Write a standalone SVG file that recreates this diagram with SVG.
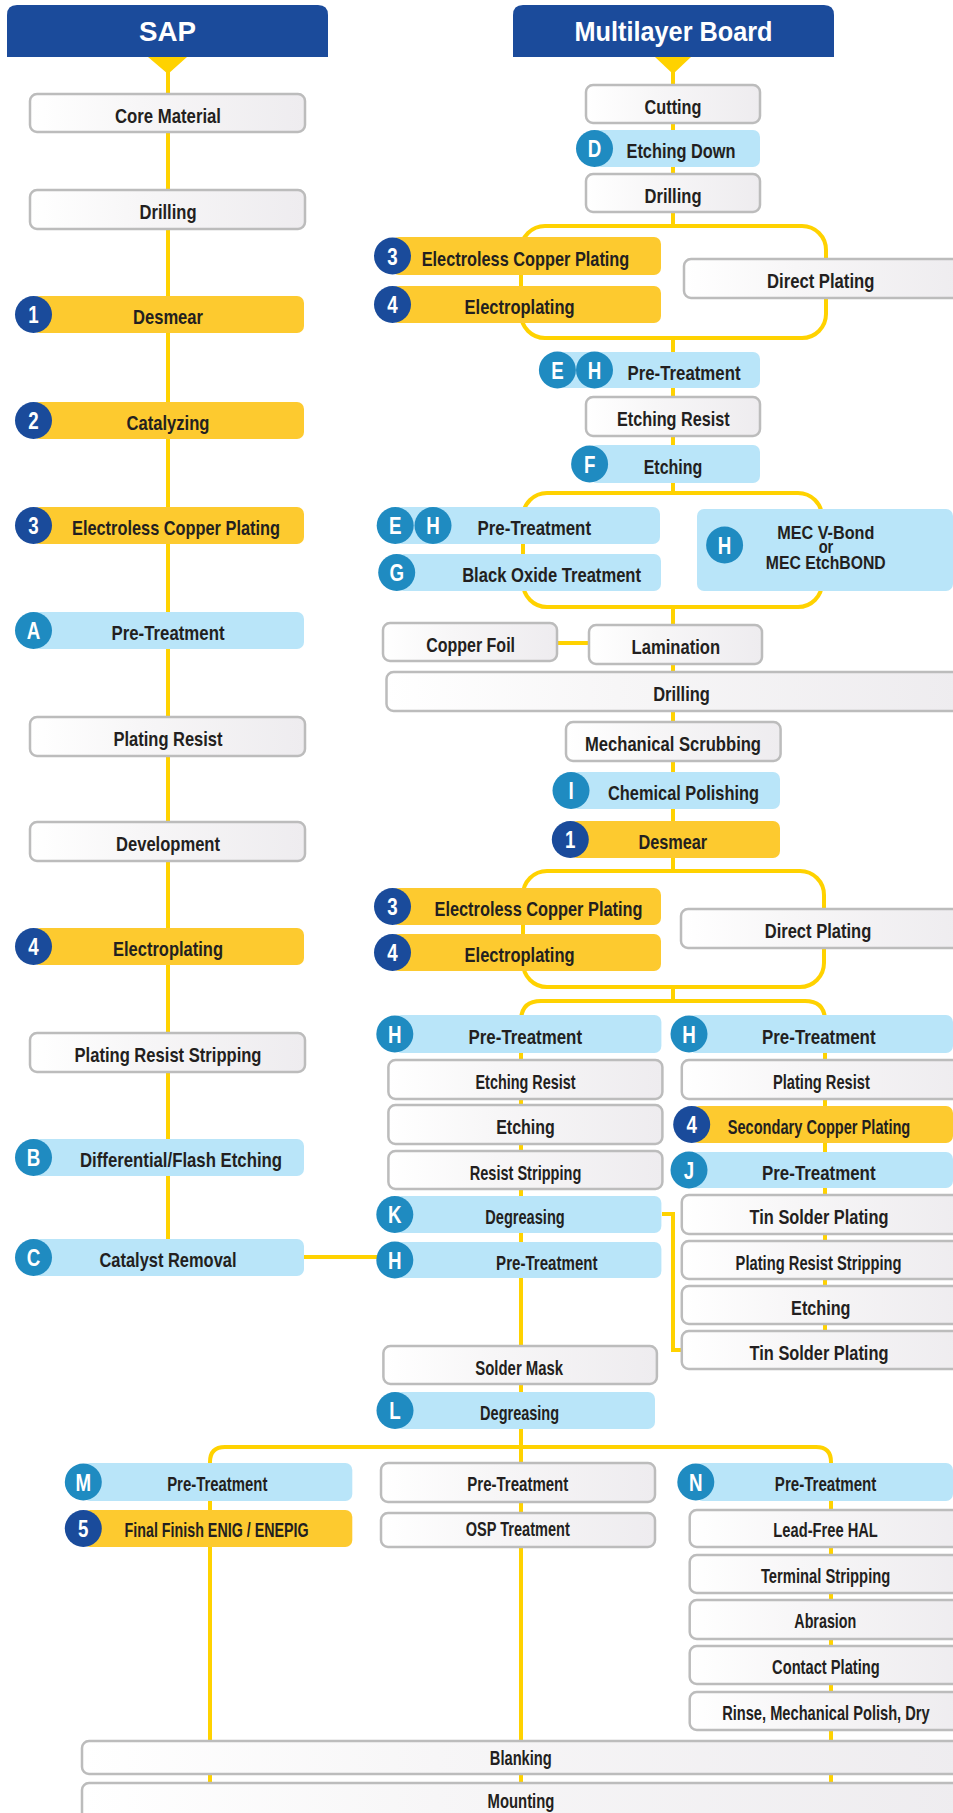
<svg xmlns="http://www.w3.org/2000/svg" width="953" height="1813" viewBox="0 0 953 1813">
<defs>
<linearGradient id="gw" x1="0" y1="0" x2="1" y2="0">
<stop offset="0" stop-color="#ffffff"/>
<stop offset="0.4" stop-color="#f7f6f7"/>
<stop offset="1" stop-color="#eeecef"/>
</linearGradient>
<style>
.w{fill:url(#gw);stroke:#bcbcbc;stroke-width:2.5}
.b{fill:#b9e5f9}
.y{fill:#fdca2f}
.cl{fill:#1f8bc1}
.cn{fill:#1a4b9b}
.hd{fill:#1b4b9b}
.ln{fill:none;stroke:#ffd200;stroke-width:4}
.tri{fill:#ffd200}
.t{font-family:"Liberation Sans",Arial,sans-serif;font-weight:700;font-size:21px;fill:#231f20;text-anchor:middle}
.tm{font-family:"Liberation Sans",Arial,sans-serif;font-weight:700;font-size:19px;fill:#231f20;text-anchor:middle}
.ct{font-family:"Liberation Sans",Arial,sans-serif;font-weight:700;font-size:24px;fill:#ffffff;text-anchor:middle}
.ht{font-family:"Liberation Sans",Arial,sans-serif;font-weight:700;font-size:28px;fill:#ffffff;text-anchor:middle}
</style>
</defs>
<g id="connectors">
<path class="ln" d="M168,57 V1239"/>
<polygon class="tri" points="148,57 187,57 168,74"/>
<polygon class="tri" points="655,57 691,57 673,74"/>
<path class="ln" d="M673,57 V226"/>
<rect class="ln" x="521" y="226" width="305" height="112" rx="24"/>
<path class="ln" d="M673,338 V493"/>
<rect class="ln" x="523" y="493" width="299" height="114" rx="24"/>
<path class="ln" d="M673,607 V871"/>
<rect class="ln" x="523" y="871" width="301" height="116" rx="24"/>
<path class="ln" d="M673,987 V1001"/>
<path class="ln" d="M521,1447 V1021 Q521,1001 541,1001 H805 Q825,1001 825,1021 V1340"/>
<path class="ln" d="M557,643 H589"/>
<path class="ln" d="M662,1214 H673 V1350 H682"/>
<path class="ln" d="M304,1257 H377"/>
<path class="ln" d="M210,1790 V1462 Q210,1447 225,1447 H816 Q831,1447 831,1462 V1790"/>
<path class="ln" d="M521,1429 V1790"/>
</g>
<g id="sap-header"><path class="hd" d="M7,57 V15 Q7,5 17,5 H318 Q328,5 328,15 V57 Z"/><text class="ht" x="167.5" y="40.5" textLength="57" lengthAdjust="spacingAndGlyphs">SAP</text></g>
<g id="sap-core"><rect class="w" x="30" y="94" width="275" height="38" rx="7"/><text class="t" x="168" y="122.5" textLength="106" lengthAdjust="spacingAndGlyphs">Core Material</text></g>
<g id="sap-drilling"><rect class="w" x="30" y="190" width="275" height="39" rx="7"/><text class="t" x="168" y="219" textLength="57" lengthAdjust="spacingAndGlyphs">Drilling</text></g>
<g id="sap-desmear"><rect class="y" x="33" y="296" width="271" height="37" rx="7"/><circle class="cn" cx="33.5" cy="314.5" r="18.5"/><text class="ct" transform="translate(33.5 323.1) scale(.78 1)">1</text><text class="t" x="168" y="324" textLength="70" lengthAdjust="spacingAndGlyphs">Desmear</text></g>
<g id="sap-catalyzing"><rect class="y" x="33" y="402" width="271" height="37" rx="7"/><circle class="cn" cx="33.5" cy="420.5" r="18.5"/><text class="ct" transform="translate(33.5 429.1) scale(.78 1)">2</text><text class="t" x="168" y="430" textLength="83" lengthAdjust="spacingAndGlyphs">Catalyzing</text></g>
<g id="sap-electroless"><rect class="y" x="33" y="507" width="271" height="37" rx="7"/><circle class="cn" cx="33.5" cy="525.5" r="18.5"/><text class="ct" transform="translate(33.5 534.1) scale(.78 1)">3</text><text class="t" x="176" y="535" textLength="208" lengthAdjust="spacingAndGlyphs">Electroless Copper Plating</text></g>
<g id="sap-pretreatment-a"><rect class="b" x="33" y="612" width="271" height="37" rx="7"/><circle class="cl" cx="33.5" cy="630.5" r="18.5"/><text class="ct" transform="translate(33.5 639.1) scale(.78 1)">A</text><text class="t" x="168" y="640" textLength="113" lengthAdjust="spacingAndGlyphs">Pre-Treatment</text></g>
<g id="sap-plating-resist"><rect class="w" x="30" y="717" width="275" height="39" rx="7"/><text class="t" x="168" y="746" textLength="109" lengthAdjust="spacingAndGlyphs">Plating Resist</text></g>
<g id="sap-development"><rect class="w" x="30" y="822" width="275" height="39" rx="7"/><text class="t" x="168" y="851" textLength="104" lengthAdjust="spacingAndGlyphs">Development</text></g>
<g id="sap-electroplating"><rect class="y" x="33" y="928" width="271" height="37" rx="7"/><circle class="cn" cx="33.5" cy="946.5" r="18.5"/><text class="ct" transform="translate(33.5 955.1) scale(.78 1)">4</text><text class="t" x="168" y="956" textLength="110" lengthAdjust="spacingAndGlyphs">Electroplating</text></g>
<g id="sap-prs"><rect class="w" x="30" y="1033" width="275" height="39" rx="7"/><text class="t" x="168" y="1062" textLength="187" lengthAdjust="spacingAndGlyphs">Plating Resist Stripping</text></g>
<g id="sap-flash-etching"><rect class="b" x="33" y="1139" width="271" height="37" rx="7"/><circle class="cl" cx="33.5" cy="1157.5" r="18.5"/><text class="ct" transform="translate(33.5 1166.1) scale(.78 1)">B</text><text class="t" x="181" y="1167" textLength="202" lengthAdjust="spacingAndGlyphs">Differential/Flash Etching</text></g>
<g id="sap-catalyst-removal"><rect class="b" x="33" y="1239" width="271" height="37" rx="7"/><circle class="cl" cx="33.5" cy="1257.5" r="18.5"/><text class="ct" transform="translate(33.5 1266.1) scale(.78 1)">C</text><text class="t" x="168" y="1267" textLength="137" lengthAdjust="spacingAndGlyphs">Catalyst Removal</text></g>

<g id="mlb-header"><path class="hd" d="M513,57 V15 Q513,5 523,5 H824 Q834,5 834,15 V57 Z"/><text class="ht" x="673.5" y="40.5" textLength="198" lengthAdjust="spacingAndGlyphs">Multilayer Board</text></g>
<g id="mlb-cutting"><rect class="w" x="586" y="85" width="174" height="38" rx="7"/><text class="t" x="673" y="114" textLength="57" lengthAdjust="spacingAndGlyphs">Cutting</text></g>
<g id="mlb-etching-down"><rect class="b" x="594" y="130" width="166" height="37" rx="7"/><circle class="cl" cx="594.5" cy="148.5" r="18.5"/><text class="ct" transform="translate(594.5 157.1) scale(.78 1)">D</text><text class="t" x="681" y="158" textLength="109" lengthAdjust="spacingAndGlyphs">Etching Down</text></g>
<g id="mlb-drilling-1"><rect class="w" x="586" y="174" width="174" height="38" rx="7"/><text class="t" x="673" y="203" textLength="57" lengthAdjust="spacingAndGlyphs">Drilling</text></g>
<g id="mlb-electroless-1"><rect class="y" x="392" y="237" width="269" height="38" rx="7"/><circle class="cn" cx="392.5" cy="256" r="18.5"/><text class="ct" transform="translate(392.5 264.6) scale(.78 1)">3</text><text class="t" x="525.5" y="265.5" textLength="207.6" lengthAdjust="spacingAndGlyphs">Electroless Copper Plating</text></g>
<g id="mlb-electroplating-1"><rect class="y" x="392" y="286" width="269" height="37" rx="7"/><circle class="cn" cx="392.5" cy="304.5" r="18.5"/><text class="ct" transform="translate(392.5 313.1) scale(.78 1)">4</text><text class="t" x="519.6" y="314" textLength="110" lengthAdjust="spacingAndGlyphs">Electroplating</text></g>
<g id="mlb-direct-plating-1"><rect class="w" x="684" y="259" width="280" height="39" rx="7"/><text class="t" x="820.7" y="287.5" textLength="107.4" lengthAdjust="spacingAndGlyphs">Direct Plating</text></g>
<g id="mlb-pretreatment-eh-1"><rect class="b" x="557" y="352" width="203" height="36" rx="7"/><circle class="cl" cx="557.4" cy="370" r="18.5"/><text class="ct" transform="translate(557.4 378.6) scale(.78 1)">E</text><circle class="cl" cx="594.5" cy="370" r="18.5"/><text class="ct" transform="translate(594.5 378.6) scale(.78 1)">H</text><text class="t" x="684" y="380" textLength="113" lengthAdjust="spacingAndGlyphs">Pre-Treatment</text></g>
<g id="mlb-etching-resist-1"><rect class="w" x="586" y="397" width="174" height="39" rx="7"/><text class="t" x="673.4" y="426" textLength="112.7" lengthAdjust="spacingAndGlyphs">Etching Resist</text></g>
<g id="mlb-etching-f"><rect class="b" x="590" y="445" width="170" height="38" rx="7"/><circle class="cl" cx="589.6" cy="464" r="18.5"/><text class="ct" transform="translate(589.6 472.6) scale(.78 1)">F</text><text class="t" x="673" y="473.5" textLength="58.6" lengthAdjust="spacingAndGlyphs">Etching</text></g>
<g id="mlb-pretreatment-eh-2"><rect class="b" x="395" y="507" width="265" height="37" rx="7"/><circle class="cl" cx="395.2" cy="525.5" r="18.5"/><text class="ct" transform="translate(395.2 534.1) scale(.78 1)">E</text><circle class="cl" cx="433" cy="525.5" r="18.5"/><text class="ct" transform="translate(433 534.1) scale(.78 1)">H</text><text class="t" x="534.3" y="535" textLength="113.5" lengthAdjust="spacingAndGlyphs">Pre-Treatment</text></g>
<g id="mlb-black-oxide"><rect class="b" x="397" y="554" width="264" height="37" rx="7"/><circle class="cl" cx="396.7" cy="572.5" r="18.5"/><text class="ct" transform="translate(396.7 581.1) scale(.78 1)">G</text><text class="t" x="551.6" y="582" textLength="178.9" lengthAdjust="spacingAndGlyphs">Black Oxide Treatment</text></g>
<g id="mlb-mec"><rect class="b" x="697" y="509" width="256" height="82" rx="7"/><circle class="cl" cx="724.6" cy="545" r="18.5"/><text class="ct" transform="translate(724.6 553.6) scale(.78 1)">H</text><text class="tm" x="825.8" y="539" textLength="97.2" lengthAdjust="spacingAndGlyphs">MEC V-Bond</text><text class="tm" x="826" y="553.3" textLength="14.7" lengthAdjust="spacingAndGlyphs">or</text><text class="tm" x="825.8" y="569.3" textLength="119.9" lengthAdjust="spacingAndGlyphs">MEC EtchBOND</text></g>
<g id="mlb-copper-foil"><rect class="w" x="383" y="623" width="174" height="38" rx="7"/><text class="t" x="470.6" y="651.5" textLength="88.9" lengthAdjust="spacingAndGlyphs">Copper Foil</text></g>
<g id="mlb-lamination"><rect class="w" x="589" y="625" width="173" height="39" rx="7"/><text class="t" x="675.8" y="653.5" textLength="88.5" lengthAdjust="spacingAndGlyphs">Lamination</text></g>
<g id="mlb-drilling-2"><rect class="w" x="386.5" y="672" width="575" height="39" rx="7"/><text class="t" x="681.5" y="701" textLength="56.7" lengthAdjust="spacingAndGlyphs">Drilling</text></g>
<g id="mlb-mech-scrubbing"><rect class="w" x="566" y="722" width="214.6" height="39" rx="7"/><text class="t" x="673" y="751" textLength="176" lengthAdjust="spacingAndGlyphs">Mechanical Scrubbing</text></g>
<g id="mlb-chem-polishing"><rect class="b" x="571" y="772" width="209" height="37" rx="7"/><circle class="cl" cx="571" cy="790.5" r="18.5"/><text class="ct" transform="translate(571 799.1) scale(.78 1)">I</text><text class="t" x="683.5" y="800" textLength="151" lengthAdjust="spacingAndGlyphs">Chemical Polishing</text></g>
<g id="mlb-desmear"><rect class="y" x="570" y="821" width="210" height="37" rx="7"/><circle class="cn" cx="570.3" cy="839.5" r="18.5"/><text class="ct" transform="translate(570.3 848.1) scale(.78 1)">1</text><text class="t" x="672.8" y="849" textLength="68.8" lengthAdjust="spacingAndGlyphs">Desmear</text></g>
<g id="mlb-electroless-2"><rect class="y" x="392" y="888" width="269" height="37" rx="7"/><circle class="cn" cx="392.5" cy="906.5" r="18.5"/><text class="ct" transform="translate(392.5 915.1) scale(.78 1)">3</text><text class="t" x="538.5" y="916" textLength="208" lengthAdjust="spacingAndGlyphs">Electroless Copper Plating</text></g>
<g id="mlb-electroplating-2"><rect class="y" x="392" y="934" width="269" height="37" rx="7"/><circle class="cn" cx="392.5" cy="952.5" r="18.5"/><text class="ct" transform="translate(392.5 961.1) scale(.78 1)">4</text><text class="t" x="519.6" y="962" textLength="110" lengthAdjust="spacingAndGlyphs">Electroplating</text></g>
<g id="mlb-direct-plating-2"><rect class="w" x="681" y="909" width="283" height="39" rx="7"/><text class="t" x="818" y="938" textLength="106.6" lengthAdjust="spacingAndGlyphs">Direct Plating</text></g>
<g id="mlb-pretreatment-h-left"><rect class="b" x="394.8" y="1015" width="266.6" height="38" rx="7"/><circle class="cl" cx="394.8" cy="1034" r="18.5"/><text class="ct" transform="translate(394.8 1042.6) scale(.78 1)">H</text><text class="t" x="525.3" y="1043.5" textLength="113.5" lengthAdjust="spacingAndGlyphs">Pre-Treatment</text></g>
<g id="mlb-pretreatment-h-right"><rect class="b" x="689" y="1015" width="264" height="38" rx="7"/><circle class="cl" cx="689" cy="1034" r="18.5"/><text class="ct" transform="translate(689 1042.6) scale(.78 1)">H</text><text class="t" x="818.8" y="1043.5" textLength="113.5" lengthAdjust="spacingAndGlyphs">Pre-Treatment</text></g>
<g id="mlb-etching-resist-2"><rect class="w" x="388.4" y="1060" width="274" height="39" rx="7"/><text class="t" x="525.5" y="1089" textLength="100" lengthAdjust="spacingAndGlyphs">Etching Resist</text></g>
<g id="mlb-etching-2"><rect class="w" x="388.4" y="1105" width="274" height="39" rx="7"/><text class="t" x="525.5" y="1134" textLength="58.6" lengthAdjust="spacingAndGlyphs">Etching</text></g>
<g id="mlb-resist-stripping"><rect class="w" x="388.4" y="1151" width="274" height="38" rx="7"/><text class="t" x="525.5" y="1179.5" textLength="111.6" lengthAdjust="spacingAndGlyphs">Resist Stripping</text></g>
<g id="mlb-degreasing-k"><rect class="b" x="394.8" y="1196" width="266.6" height="37" rx="7"/><circle class="cl" cx="394.8" cy="1214.5" r="18.5"/><text class="ct" transform="translate(394.8 1223.1) scale(.78 1)">K</text><text class="t" x="525" y="1224" textLength="79.4" lengthAdjust="spacingAndGlyphs">Degreasing</text></g>
<g id="mlb-pretreatment-h-3"><rect class="b" x="394.8" y="1242" width="266.6" height="36" rx="7"/><circle class="cl" cx="394.8" cy="1260" r="18.5"/><text class="ct" transform="translate(394.8 1268.6) scale(.78 1)">H</text><text class="t" x="546.8" y="1269.5" textLength="101.4" lengthAdjust="spacingAndGlyphs">Pre-Treatment</text></g>
<g id="mlb-solder-mask"><rect class="w" x="383.4" y="1346" width="273.5" height="38" rx="7"/><text class="t" x="519.2" y="1374.5" textLength="87.7" lengthAdjust="spacingAndGlyphs">Solder Mask</text></g>
<g id="mlb-plating-resist"><rect class="w" x="681.8" y="1060" width="282" height="39" rx="7"/><text class="t" x="821.4" y="1089" textLength="96.8" lengthAdjust="spacingAndGlyphs">Plating Resist</text></g>
<g id="mlb-secondary-copper"><rect class="y" x="691.7" y="1106" width="261.3" height="37" rx="7"/><circle class="cn" cx="691.7" cy="1124.5" r="18.5"/><text class="ct" transform="translate(691.7 1133.1) scale(.78 1)">4</text><text class="t" transform="translate(819 1134) scale(.696 1)">Secondary Copper Plating</text></g>
<g id="mlb-pretreatment-j"><rect class="b" x="689" y="1152" width="264" height="36" rx="7"/><circle class="cl" cx="689" cy="1170" r="18.5"/><text class="ct" transform="translate(689 1178.6) scale(.78 1)">J</text><text class="t" x="818.8" y="1179.5" textLength="113.5" lengthAdjust="spacingAndGlyphs">Pre-Treatment</text></g>
<g id="mlb-tin-solder-1"><rect class="w" x="681.8" y="1195" width="282" height="39" rx="7"/><text class="t" x="819" y="1224" textLength="138.8" lengthAdjust="spacingAndGlyphs">Tin Solder Plating</text></g>
<g id="mlb-prs"><rect class="w" x="681.8" y="1241" width="282" height="38" rx="7"/><text class="t" transform="translate(818.6 1269.5) scale(.701 1)">Plating Resist Stripping</text></g>
<g id="mlb-etching-3"><rect class="w" x="681.8" y="1286" width="282" height="38" rx="7"/><text class="t" x="820.8" y="1314.5" textLength="59.4" lengthAdjust="spacingAndGlyphs">Etching</text></g>
<g id="mlb-tin-solder-2"><rect class="w" x="681.8" y="1331" width="282" height="38" rx="7"/><text class="t" x="819" y="1359.5" textLength="138.8" lengthAdjust="spacingAndGlyphs">Tin Solder Plating</text></g>
<g id="mlb-degreasing-l"><rect class="b" x="395" y="1392" width="260" height="37" rx="7"/><circle class="cl" cx="395" cy="1410.5" r="18.5"/><text class="ct" transform="translate(395 1419.1) scale(.78 1)">L</text><text class="t" x="519.6" y="1420" textLength="79" lengthAdjust="spacingAndGlyphs">Degreasing</text></g>
<g id="fin-pretreatment-m"><rect class="b" x="83.3" y="1463" width="269" height="38" rx="7"/><circle class="cl" cx="83.3" cy="1482" r="18.5"/><text class="ct" transform="translate(83.3 1490.6) scale(.78 1)">M</text><text class="t" x="217.3" y="1490.7" textLength="100.3" lengthAdjust="spacingAndGlyphs">Pre-Treatment</text></g>
<g id="fin-enig"><rect class="y" x="83.3" y="1510" width="269" height="37" rx="7"/><circle class="cn" cx="83.3" cy="1528.5" r="18.5"/><text class="ct" transform="translate(83.3 1537.1) scale(.78 1)">5</text><text class="t" x="216.6" y="1536.7" textLength="184.1" lengthAdjust="spacingAndGlyphs">Final Finish ENIG / ENEPIG</text></g>
<g id="fin-pretreatment-mid"><rect class="w" x="381" y="1463" width="274" height="39" rx="7"/><text class="t" x="517.8" y="1491" textLength="101" lengthAdjust="spacingAndGlyphs">Pre-Treatment</text></g>
<g id="fin-osp"><rect class="w" x="381" y="1513" width="274" height="34" rx="7"/><text class="t" x="517.8" y="1536" textLength="104" lengthAdjust="spacingAndGlyphs">OSP Treatment</text></g>
<g id="fin-pretreatment-n"><rect class="b" x="695.8" y="1463" width="257.2" height="38" rx="7"/><circle class="cl" cx="695.8" cy="1482" r="18.5"/><text class="ct" transform="translate(695.8 1490.6) scale(.78 1)">N</text><text class="t" x="825.6" y="1490.7" textLength="101.5" lengthAdjust="spacingAndGlyphs">Pre-Treatment</text></g>
<g id="fin-lead-free-hal"><rect class="w" x="689.7" y="1510" width="275" height="37" rx="7"/><text class="t" x="825.6" y="1536.7" textLength="104.5" lengthAdjust="spacingAndGlyphs">Lead-Free HAL</text></g>
<g id="fin-terminal-stripping"><rect class="w" x="689.7" y="1555" width="275" height="38" rx="7"/><text class="t" x="825.6" y="1583" textLength="129.4" lengthAdjust="spacingAndGlyphs">Terminal Stripping</text></g>
<g id="fin-abrasion"><rect class="w" x="689.7" y="1600" width="275" height="39" rx="7"/><text class="t" x="825.3" y="1628" textLength="62" lengthAdjust="spacingAndGlyphs">Abrasion</text></g>
<g id="fin-contact-plating"><rect class="w" x="689.7" y="1646" width="275" height="38" rx="7"/><text class="t" x="825.9" y="1674" textLength="107.6" lengthAdjust="spacingAndGlyphs">Contact Plating</text></g>
<g id="fin-rinse"><rect class="w" x="689.7" y="1692" width="275" height="38" rx="7"/><text class="t" transform="translate(825.9 1720) scale(.698 1)">Rinse, Mechanical Polish, Dry</text></g>
<g id="fin-blanking"><rect class="w" x="82" y="1741" width="885" height="33" rx="7"/><text class="t" x="520.8" y="1765" textLength="62" lengthAdjust="spacingAndGlyphs">Blanking</text></g>
<g id="fin-mounting"><rect class="w" x="82" y="1783" width="885" height="45" rx="7"/><text class="t" x="521" y="1807.7" textLength="66.8" lengthAdjust="spacingAndGlyphs">Mounting</text></g>
</svg>
